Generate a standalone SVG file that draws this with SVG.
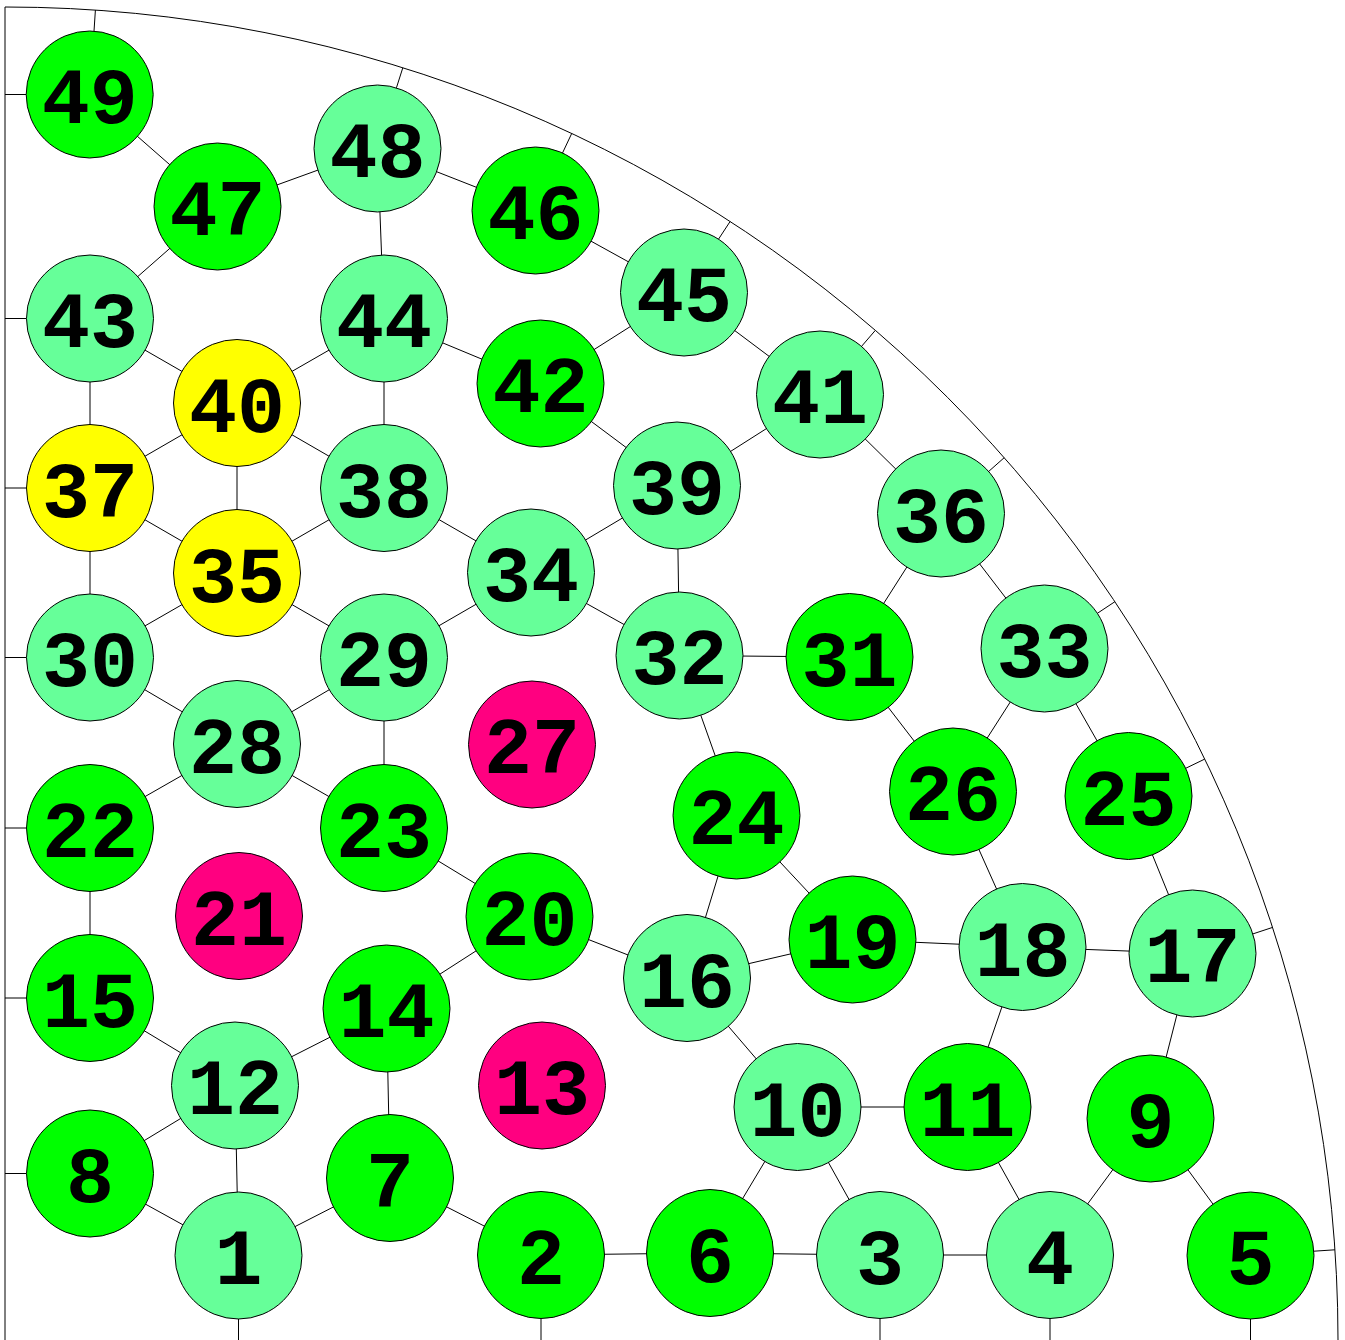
<svg xmlns="http://www.w3.org/2000/svg" width="1345" height="1340" viewBox="0 0 1345 1340">
<style>
.n circle{stroke:#000;stroke-width:1}
.lg circle{fill:#66FF99}
.g circle{fill:#00FF00}
.y circle{fill:#FFFF00}
.p circle{fill:#FF0080}
text{font-family:"Liberation Mono","Courier New",monospace;font-weight:bold;font-size:80px;text-anchor:middle;fill:#000}
#edges line,#frame path,#frame line{stroke:#000;stroke-width:1;fill:none}
</style>
<rect width="1345" height="1340" fill="#fff"/>
<g id="frame">
<path d="M5 7 A1333 1333 0 0 1 1338 1340"/>
<line x1="5" y1="7" x2="5" y2="1340"/>
</g>
<g id="edges">
<line x1="89.7" y1="94.5" x2="217.5" y2="206.5"/>
<line x1="217.5" y1="206.5" x2="377.5" y2="148.5"/>
<line x1="217.5" y1="206.5" x2="90" y2="318.5"/>
<line x1="377.5" y1="148.5" x2="384" y2="318.5"/>
<line x1="377.5" y1="148.5" x2="535.5" y2="210.5"/>
<line x1="535.5" y1="210.5" x2="684" y2="292.5"/>
<line x1="684" y1="292.5" x2="540.5" y2="383.5"/>
<line x1="684" y1="292.5" x2="820" y2="394.5"/>
<line x1="90" y1="318.5" x2="237" y2="403"/>
<line x1="90" y1="318.5" x2="90" y2="488"/>
<line x1="237" y1="403" x2="384" y2="318.5"/>
<line x1="237" y1="403" x2="384" y2="488"/>
<line x1="237" y1="403" x2="90" y2="488"/>
<line x1="237" y1="403" x2="237" y2="573"/>
<line x1="384" y1="318.5" x2="384" y2="488"/>
<line x1="384" y1="318.5" x2="540.5" y2="383.5"/>
<line x1="540.5" y1="383.5" x2="677" y2="485.5"/>
<line x1="820" y1="394.5" x2="677" y2="485.5"/>
<line x1="820" y1="394.5" x2="941" y2="513.5"/>
<line x1="90" y1="488" x2="237" y2="573"/>
<line x1="90" y1="488" x2="90" y2="657.5"/>
<line x1="384" y1="488" x2="237" y2="573"/>
<line x1="384" y1="488" x2="531" y2="572.5"/>
<line x1="237" y1="573" x2="90" y2="657.5"/>
<line x1="237" y1="573" x2="384" y2="657.5"/>
<line x1="531" y1="572.5" x2="384" y2="657.5"/>
<line x1="531" y1="572.5" x2="677" y2="485.5"/>
<line x1="531" y1="572.5" x2="679.5" y2="655.5"/>
<line x1="677" y1="485.5" x2="679.5" y2="655.5"/>
<line x1="941" y1="513.5" x2="849.5" y2="657"/>
<line x1="941" y1="513.5" x2="1044.5" y2="648.5"/>
<line x1="679.5" y1="655.5" x2="849.5" y2="657"/>
<line x1="679.5" y1="655.5" x2="736.5" y2="815.5"/>
<line x1="849.5" y1="657" x2="953" y2="791.5"/>
<line x1="1044.5" y1="648.5" x2="953" y2="791.5"/>
<line x1="1044.5" y1="648.5" x2="1128.5" y2="796"/>
<line x1="90" y1="657.5" x2="237" y2="744"/>
<line x1="384" y1="657.5" x2="237" y2="744"/>
<line x1="384" y1="657.5" x2="384" y2="828"/>
<line x1="237" y1="744" x2="90" y2="828"/>
<line x1="237" y1="744" x2="384" y2="828"/>
<line x1="384" y1="828" x2="529.5" y2="916.5"/>
<line x1="736.5" y1="815.5" x2="852.5" y2="939.5"/>
<line x1="736.5" y1="815.5" x2="687" y2="978"/>
<line x1="953" y1="791.5" x2="1022.5" y2="947"/>
<line x1="1128.5" y1="796" x2="1192.5" y2="953.5"/>
<line x1="90" y1="828" x2="90" y2="998"/>
<line x1="529.5" y1="916.5" x2="687" y2="978"/>
<line x1="529.5" y1="916.5" x2="386.5" y2="1008.5"/>
<line x1="687" y1="978" x2="852.5" y2="939.5"/>
<line x1="687" y1="978" x2="797.5" y2="1107"/>
<line x1="852.5" y1="939.5" x2="1022.5" y2="947"/>
<line x1="1022.5" y1="947" x2="1192.5" y2="953.5"/>
<line x1="1022.5" y1="947" x2="967.5" y2="1107"/>
<line x1="1192.5" y1="953.5" x2="1150.5" y2="1118.5"/>
<line x1="90" y1="998" x2="235" y2="1085.5"/>
<line x1="386.5" y1="1008.5" x2="235" y2="1085.5"/>
<line x1="386.5" y1="1008.5" x2="390" y2="1178"/>
<line x1="235" y1="1085.5" x2="90" y2="1173.5"/>
<line x1="235" y1="1085.5" x2="238.5" y2="1255.5"/>
<line x1="797.5" y1="1107" x2="967.5" y2="1107"/>
<line x1="797.5" y1="1107" x2="710" y2="1253"/>
<line x1="797.5" y1="1107" x2="880" y2="1255"/>
<line x1="967.5" y1="1107" x2="1050" y2="1255"/>
<line x1="1150.5" y1="1118.5" x2="1050" y2="1255"/>
<line x1="1150.5" y1="1118.5" x2="1250.5" y2="1255.5"/>
<line x1="90" y1="1173.5" x2="238.5" y2="1255.5"/>
<line x1="238.5" y1="1255.5" x2="390" y2="1178"/>
<line x1="390" y1="1178" x2="541" y2="1255"/>
<line x1="541" y1="1255" x2="710" y2="1253"/>
<line x1="710" y1="1253" x2="880" y2="1255"/>
<line x1="880" y1="1255" x2="1050" y2="1255"/>
<line x1="5" y1="94.5" x2="26.2" y2="94.5"/>
<line x1="5" y1="318.5" x2="26.5" y2="318.5"/>
<line x1="5" y1="488" x2="26.5" y2="488"/>
<line x1="5" y1="657.5" x2="26.5" y2="657.5"/>
<line x1="5" y1="828" x2="26.5" y2="828"/>
<line x1="5" y1="998" x2="26.5" y2="998"/>
<line x1="5" y1="1173.5" x2="26.5" y2="1173.5"/>
<line x1="238.5" y1="1319" x2="238.5" y2="1340"/>
<line x1="541" y1="1318.5" x2="541" y2="1340"/>
<line x1="880" y1="1318.5" x2="880" y2="1340"/>
<line x1="1050" y1="1318.5" x2="1050" y2="1340"/>
<line x1="1250.5" y1="1319" x2="1250.5" y2="1340"/>
<line x1="94" y1="31.2" x2="95.4" y2="10.1"/>
<line x1="396.4" y1="87.9" x2="402.8" y2="67.8"/>
<line x1="562.5" y1="153" x2="571.7" y2="133.5"/>
<line x1="718.5" y1="239.2" x2="730.1" y2="221.5"/>
<line x1="861.5" y1="346.4" x2="875.3" y2="330.4"/>
<line x1="988.6" y1="471.5" x2="1004.2" y2="457.7"/>
<line x1="1097.4" y1="613.3" x2="1114.9" y2="601.7"/>
<line x1="1185.7" y1="768.3" x2="1204.7" y2="759.1"/>
<line x1="1252.9" y1="933.9" x2="1272.6" y2="927.4"/>
<line x1="1313.9" y1="1251.2" x2="1334.9" y2="1249.8"/>
</g>
<g id="n1" class="n lg"><circle cx="238.5" cy="1255.5" r="63.5"/><text x="238.5" y="1284">1</text></g>
<g id="n2" class="n g"><circle cx="541" cy="1255" r="63.5"/><text x="541" y="1283.5">2</text></g>
<g id="n3" class="n lg"><circle cx="880" cy="1255" r="63.5"/><text x="880" y="1283.5">3</text></g>
<g id="n4" class="n lg"><circle cx="1050" cy="1255" r="63.5"/><text x="1050" y="1283.5">4</text></g>
<g id="n5" class="n g"><circle cx="1250.5" cy="1255.5" r="63.5"/><text x="1250.5" y="1284">5</text></g>
<g id="n6" class="n g"><circle cx="710" cy="1253" r="63.5"/><text x="710" y="1281.5">6</text></g>
<g id="n7" class="n g"><circle cx="390" cy="1178" r="63.5"/><text x="390" y="1206.5">7</text></g>
<g id="n8" class="n g"><circle cx="90" cy="1173.5" r="63.5"/><text x="90" y="1202">8</text></g>
<g id="n9" class="n g"><circle cx="1150.5" cy="1118.5" r="63.5"/><text x="1150.5" y="1147">9</text></g>
<g id="n10" class="n lg"><circle cx="797.5" cy="1107" r="63.5"/><text x="797.5" y="1135.5">10</text></g>
<g id="n11" class="n g"><circle cx="967.5" cy="1107" r="63.5"/><text x="967.5" y="1135.5">11</text></g>
<g id="n12" class="n lg"><circle cx="235" cy="1085.5" r="63.5"/><text x="235" y="1114">12</text></g>
<g id="n13" class="n p"><circle cx="542" cy="1085.5" r="63.5"/><text x="542" y="1114">13</text></g>
<g id="n14" class="n g"><circle cx="386.5" cy="1008.5" r="63.5"/><text x="386.5" y="1037">14</text></g>
<g id="n15" class="n g"><circle cx="90" cy="998" r="63.5"/><text x="90" y="1026.5">15</text></g>
<g id="n16" class="n lg"><circle cx="687" cy="978" r="63.5"/><text x="687" y="1006.5">16</text></g>
<g id="n17" class="n lg"><circle cx="1192.5" cy="953.5" r="63.5"/><text x="1192.5" y="982">17</text></g>
<g id="n18" class="n lg"><circle cx="1022.5" cy="947" r="63.5"/><text x="1022.5" y="975.5">18</text></g>
<g id="n19" class="n g"><circle cx="852.5" cy="939.5" r="63.5"/><text x="852.5" y="968">19</text></g>
<g id="n20" class="n g"><circle cx="529.5" cy="916.5" r="63.5"/><text x="529.5" y="945">20</text></g>
<g id="n21" class="n p"><circle cx="239" cy="916" r="63.5"/><text x="239" y="944.5">21</text></g>
<g id="n22" class="n g"><circle cx="90" cy="828" r="63.5"/><text x="90" y="856.5">22</text></g>
<g id="n23" class="n g"><circle cx="384" cy="828" r="63.5"/><text x="384" y="856.5">23</text></g>
<g id="n24" class="n g"><circle cx="736.5" cy="815.5" r="63.5"/><text x="736.5" y="844">24</text></g>
<g id="n25" class="n g"><circle cx="1128.5" cy="796" r="63.5"/><text x="1128.5" y="824.5">25</text></g>
<g id="n26" class="n g"><circle cx="953" cy="791.5" r="63.5"/><text x="953" y="820">26</text></g>
<g id="n27" class="n p"><circle cx="532" cy="744.5" r="63.5"/><text x="532" y="773">27</text></g>
<g id="n28" class="n lg"><circle cx="237" cy="744" r="63.5"/><text x="237" y="772.5">28</text></g>
<g id="n29" class="n lg"><circle cx="384" cy="657.5" r="63.5"/><text x="384" y="686">29</text></g>
<g id="n30" class="n lg"><circle cx="90" cy="657.5" r="63.5"/><text x="90" y="686">30</text></g>
<g id="n31" class="n g"><circle cx="849.5" cy="657" r="63.5"/><text x="849.5" y="685.5">31</text></g>
<g id="n32" class="n lg"><circle cx="679.5" cy="655.5" r="63.5"/><text x="679.5" y="684">32</text></g>
<g id="n33" class="n lg"><circle cx="1044.5" cy="648.5" r="63.5"/><text x="1044.5" y="677">33</text></g>
<g id="n34" class="n lg"><circle cx="531" cy="572.5" r="63.5"/><text x="531" y="601">34</text></g>
<g id="n35" class="n y"><circle cx="237" cy="573" r="63.5"/><text x="237" y="601.5">35</text></g>
<g id="n36" class="n lg"><circle cx="941" cy="513.5" r="63.5"/><text x="941" y="542">36</text></g>
<g id="n37" class="n y"><circle cx="90" cy="488" r="63.5"/><text x="90" y="516.5">37</text></g>
<g id="n38" class="n lg"><circle cx="384" cy="488" r="63.5"/><text x="384" y="516.5">38</text></g>
<g id="n39" class="n lg"><circle cx="677" cy="485.5" r="63.5"/><text x="677" y="514">39</text></g>
<g id="n40" class="n y"><circle cx="237" cy="403" r="63.5"/><text x="237" y="431.5">40</text></g>
<g id="n41" class="n lg"><circle cx="820" cy="394.5" r="63.5"/><text x="820" y="423">41</text></g>
<g id="n42" class="n g"><circle cx="540.5" cy="383.5" r="63.5"/><text x="540.5" y="412">42</text></g>
<g id="n43" class="n lg"><circle cx="90" cy="318.5" r="63.5"/><text x="90" y="347">43</text></g>
<g id="n44" class="n lg"><circle cx="384" cy="318.5" r="63.5"/><text x="384" y="347">44</text></g>
<g id="n45" class="n lg"><circle cx="684" cy="292.5" r="63.5"/><text x="684" y="321">45</text></g>
<g id="n46" class="n g"><circle cx="535.5" cy="210.5" r="63.5"/><text x="535.5" y="239">46</text></g>
<g id="n47" class="n g"><circle cx="217.5" cy="206.5" r="63.5"/><text x="217.5" y="235">47</text></g>
<g id="n48" class="n lg"><circle cx="377.5" cy="148.5" r="63.5"/><text x="377.5" y="177">48</text></g>
<g id="n49" class="n g"><circle cx="89.7" cy="94.5" r="63.5"/><text x="89.7" y="123">49</text></g>
</svg>
